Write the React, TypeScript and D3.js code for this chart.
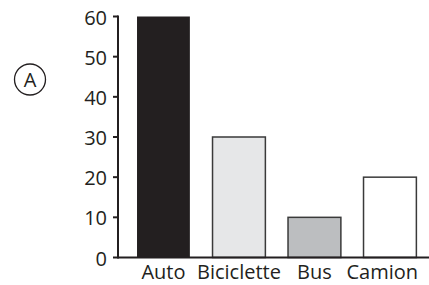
import { useEffect, useRef } from 'react'
import * as d3 from 'd3'

const categories = ['Auto', 'Biciclette', 'Bus', 'Camion']
const values = [60, 30, 10, 20]
const fills = ['#231f20', '#e6e7e8', '#bcbec0', '#ffffff']
const yTicks = [0, 10, 20, 30, 40, 50, 60]
const panelLabel = 'A'

const W = 429
const H = 285

export default function App() {
  const svgRef = useRef<SVGSVGElement>(null)

  useEffect(() => {
    const svg = d3.select(svgRef.current)
    svg.selectAll('*').remove()

    const font = "'Open Sans', sans-serif"
    const fs = 20
    const axisX = 118
    const y0 = 257.5

    const x = d3.scaleBand<string>()
      .domain(categories)
      .range([125.7, 427.7])
      .paddingInner(0.3)
      .paddingOuter(0.15)

    const y = d3.scaleLinear().domain([0, 60]).range([y0, 16.5])

    // bars
    svg.selectAll('.bar')
      .data(values)
      .enter()
      .append('rect')
      .attr('x', (d, i) => x(categories[i]) || 0)
      .attr('y', d => y(d))
      .attr('width', x.bandwidth())
      .attr('height', d => y0 - y(d))
      .attr('fill', (d, i) => fills[i])
      .attr('stroke', (d, i) => (i === 0 ? 'none' : '#3a3a3a'))
      .attr('stroke-width', 1.5)

    // axes
    svg.append('line')
      .attr('x1', axisX).attr('x2', axisX)
      .attr('y1', y(60) - 1).attr('y2', y0 + 1)
      .attr('stroke', '#231f20').attr('stroke-width', 2)

    svg.append('line')
      .attr('x1', axisX).attr('x2', W)
      .attr('y1', y0).attr('y2', y0)
      .attr('stroke', '#231f20').attr('stroke-width', 2)

    yTicks.forEach(t => {
      svg.append('line')
        .attr('x1', axisX - 5).attr('x2', axisX)
        .attr('y1', y(t)).attr('y2', y(t))
        .attr('stroke', '#231f20').attr('stroke-width', 2)
      svg.append('text')
        .attr('x', 107)
        .attr('y', y(t) + 8)
        .attr('text-anchor', 'end')
        .attr('font-family', font)
        .attr('font-size', fs)
        .attr('fill', '#231f20')
        .text(t)
    })

    // category labels, kept inside the right edge
    categories.forEach(c => {
      const label = svg.append('text')
        .attr('y', 279)
        .attr('text-anchor', 'middle')
        .attr('font-family', font)
        .attr('font-size', fs)
        .attr('fill', '#231f20')
        .text(c)
      const half = ((label.node() as SVGTextElement).getComputedTextLength() || 0) / 2
      const cx = Math.min((x(c) || 0) + x.bandwidth() / 2, W - 11 - half)
      label.attr('x', cx)
    })

    // circled panel letter
    svg.append('circle')
      .attr('cx', 30).attr('cy', 79.5).attr('r', 15.5)
      .attr('fill', 'none').attr('stroke', '#231f20').attr('stroke-width', 1.3)
    svg.append('text')
      .attr('x', 30).attr('y', 86.5)
      .attr('text-anchor', 'middle')
      .attr('font-family', font)
      .attr('font-size', fs)
      .attr('fill', '#231f20')
      .text(panelLabel)
  }, [])

  return (
    <svg ref={svgRef} width={W} height={H}
      style={{ position: 'absolute', left: 0, top: 0, background: '#fff' }} />
  )
}
